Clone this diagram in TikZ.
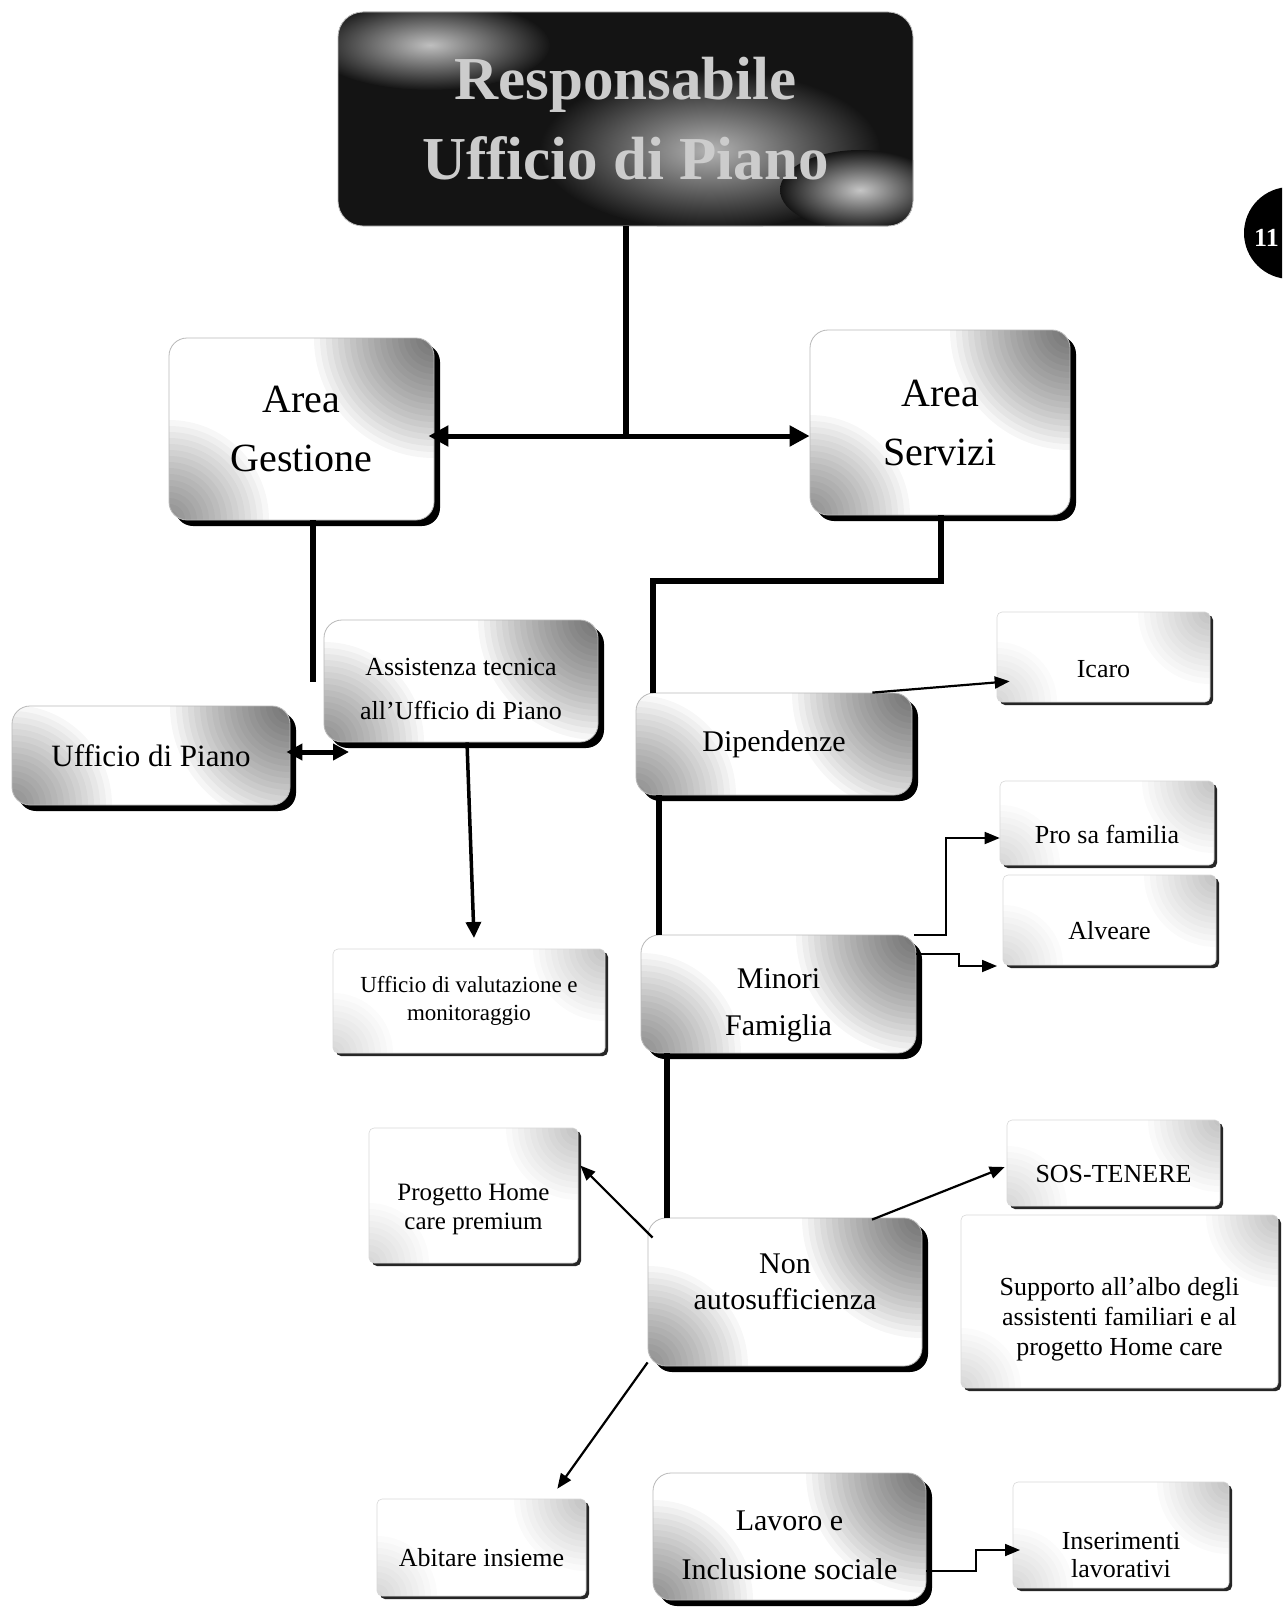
\documentclass[tikz,border=0pt]{standalone}
\usepackage{fontspec}
\setmainfont{Liberation Serif}
\usetikzlibrary{arrows.meta,shadows,calc}
\newcommand\dnr[1]{\rule{0pt}{#1pt}}
\newcommand\upr[1]{\rule[-#1pt]{0pt}{#1pt}}
\tikzset{
  mainbox/.style={draw=gray!55, line width=0.8pt, rounded corners=18pt, align=center, inner sep=0pt,
    fill=white,
    path picture={
      \foreach \rr in {120,114,...,6} {\fill[black, opacity=0.035] (path picture bounding box.north east) circle (\rr);}
      \foreach \rr in {100,94,...,4} {\fill[black, opacity=0.03] (path picture bounding box.south west) circle (\rr);}
    },
    drop shadow={shadow xshift=6pt, shadow yshift=-6pt, fill=black, opacity=1},
    font=\fontsize{30}{47}\selectfont},
  lightbox/.style={draw=gray!30, line width=0.6pt, rounded corners=5pt, align=center, inner sep=0pt,
    fill=white,
    path picture={
      \foreach \rr in {72,66,...,6} {\fill[black, opacity=0.02] (path picture bounding box.north east) circle (\rr);}
      \foreach \rr in {60,54,...,6} {\fill[black, opacity=0.015] (path picture bounding box.south west) circle (\rr);}
    },
    drop shadow={shadow xshift=3pt, shadow yshift=-3pt, fill=black!85, opacity=1},
    font=\fontsize{26}{30}\selectfont},
  titlebox/.style={draw=gray!50, line width=0.8pt, rounded corners=25pt, align=center, inner sep=0pt,
    text=gray!40, font=\bfseries\fontsize{61}{80}\selectfont},
  blob/.style={inner color=gray!60, outer color=black!92},
  trunk/.style={line width=6pt},
  bigdarrow/.style={line width=5pt, {Triangle[length=20pt,width=20pt]}-{Triangle[length=20pt,width=20pt]}},
  meddarrow/.style={line width=5pt, {Triangle[length=16pt,width=16pt]}-{Triangle[length=16pt,width=16pt]}},
  medarrow/.style={line width=3.5pt, -{Triangle[length=16pt,width=15pt]}},
  thinarrow/.style={line width=2.2pt, -{Triangle[length=15pt,width=12pt]}},
  elbow/.style={line width=1.8pt, -{Triangle[length=15pt,width=12pt]}}
}
\begin{document}
\begin{tikzpicture}[x=1pt,y=-1pt]
\fill[white] (0,0) rectangle (1282,1608);
\useasboundingbox (0,0) rectangle (1282,1608);

% title background
\fill[black!92, rounded corners=25pt] (338,12) rectangle (913,226);
\begin{scope}
  \clip[rounded corners=25pt] (338,12) rectangle (913,226);
  \shade[blob] (710,150) ellipse [x radius=170, y radius=80];
  \shade[blob, inner color=gray!50] (430,45) ellipse [x radius=120, y radius=45];
  \shade[blob, inner color=gray!45] (860,190) ellipse [x radius=80, y radius=40];
\end{scope}
\node[titlebox, minimum width=575pt, minimum height=214pt] (title) at (625.5,119) {Responsabile\\Ufficio di Piano};

% main boxes
\node[mainbox, minimum width=265pt, minimum height=182pt, font=\fontsize{40}{59}\selectfont] (gest) at (301.5,429) {Area\\Gestione};
\node[mainbox, minimum width=260pt, minimum height=185pt, font=\fontsize{40}{59}\selectfont] (serv) at (940,422.5) {Area\\Servizi};
\node[mainbox, minimum width=274pt, minimum height=122pt, font=\fontsize{26}{44}\selectfont] (assist) at (461,681) {\dnr{34}Assistenza tecnica\\all’Ufficio di Piano};
\node[mainbox, minimum width=278pt, minimum height=99pt, font=\fontsize{31}{36}\selectfont] (uff) at (151,755.5) {Ufficio di Piano};
\node[mainbox, minimum width=276pt, minimum height=102pt] (dip) at (774,744) {Dipendenze};
\node[mainbox, minimum width=275pt, minimum height=118pt] (minori) at (778.5,994) {\dnr{43}Minori\\Famiglia};
\node[mainbox, minimum width=274pt, minimum height=148pt, font=\fontsize{30}{36}\selectfont] (nonauto) at (785,1292) {Non\\autosufficienza\upr{21}};
\node[mainbox, minimum width=273pt, minimum height=127pt, font=\fontsize{30}{49}\selectfont] (lavoro) at (789.5,1536.5) {\dnr{37}Lavoro e\\Inclusione sociale};

% light boxes
\node[lightbox, minimum width=272pt, minimum height=104pt, font=\fontsize{23}{28}\selectfont] (valut) at (469,1001) {Ufficio di valutazione e\\monitoraggio};
\node[lightbox, minimum width=213pt, minimum height=90pt] (icaro) at (1103.5,657) {\dnr{42}Icaro};
\node[lightbox, minimum width=214pt, minimum height=84pt] (pro) at (1107,823) {\dnr{42}Pro sa familia};
\node[lightbox, minimum width=213pt, minimum height=90pt] (alv) at (1109.5,920) {\dnr{40}Alveare};
\node[lightbox, minimum width=209pt, minimum height=135pt, font=\fontsize{25}{29}\selectfont] (prog) at (473.5,1195.5) {\dnr{45}Progetto Home\\care premium};
\node[lightbox, minimum width=213pt, minimum height=86pt] (sos) at (1113.5,1163) {\dnr{40}SOS-TENERE};
\node[lightbox, minimum width=317pt, minimum height=173pt] (supp) at (1119.5,1301.5) {\dnr{54}Supporto all’albo degli\\assistenti familiari e al\\progetto Home care};
\node[lightbox, minimum width=209pt, minimum height=97pt] (abit) at (481.5,1547.5) {\dnr{38}Abitare insieme};
\node[lightbox, minimum width=216pt, minimum height=106pt, font=\fontsize{26}{28}\selectfont] (inser) at (1121,1535) {\dnr{58}Inserimenti\\lavorativi};

% connectors
\coordinate (j1) at (626,436);
\draw[trunk] (title.south -| j1) -- (j1);
\draw[bigdarrow, shorten <=-6pt] (gest.east |- j1) -- (serv.west |- j1);

\coordinate (g1) at (313,682);
\draw[trunk] (gest.south -| g1) -- (g1);

\coordinate (s1) at (941,581);
\coordinate (s2) at (653,581);
\draw[trunk] (serv.south -| s1) -- (s1) -- (s2) -- (dip.north -| s2);
\coordinate (v1) at (659,0);
\coordinate (v2) at (667,0);
\draw[trunk] (dip.south -| v1) -- (minori.north -| v1);
\draw[trunk] (minori.south -| v2) -- (nonauto.north -| v2);

\coordinate (a1) at (349,752);
\draw[meddarrow, shorten <=-4pt] (uff.east |- a1) -- (a1);
\coordinate (a2) at (467,0);
\coordinate (a3) at (474,938);
\draw[medarrow] (assist.south -| a2) -- (a3);

\draw[thinarrow] ($(dip.north east)+(-40,0)$) -- ($(icaro.south west)+(13,-21)$);

\coordinate (m1) at (946,838);
\draw[elbow] ($(minori.north east)+(-2,0)$) -| (m1) -- (pro.west |- m1);
\coordinate (m2) at (959,954);
\coordinate (m3) at (997,966);
\draw[elbow] (minori.east |- m2) -- (m2) |- (m3);

\draw[thinarrow] ($(nonauto.north west)+(5,20)$) -- ($(prog.east)+(2,-30)$);
\draw[thinarrow] ($(nonauto.north)+(87,2)$) -- ($(sos.west)+(-2,4)$);
\draw[thinarrow] ($(nonauto.south west)+(0,-4)$) -- ($(abit.north east)+(-29,-10)$);

\coordinate (l1) at (976,1571);
\coordinate (l2) at (1020,1550);
\draw[elbow] (lavoro.east |- l1) -- (l1) |- (l2);

% page marker
\begin{scope}
  \clip (0,0) rectangle (1282,1608);
  \fill[black] (1290,233) circle (46);
  \node[text=white, font=\bfseries\fontsize{26}{30}\selectfont, anchor=west, inner sep=0pt] (pg) at (1254,238) {11};
\end{scope}
\end{tikzpicture}
\end{document}
